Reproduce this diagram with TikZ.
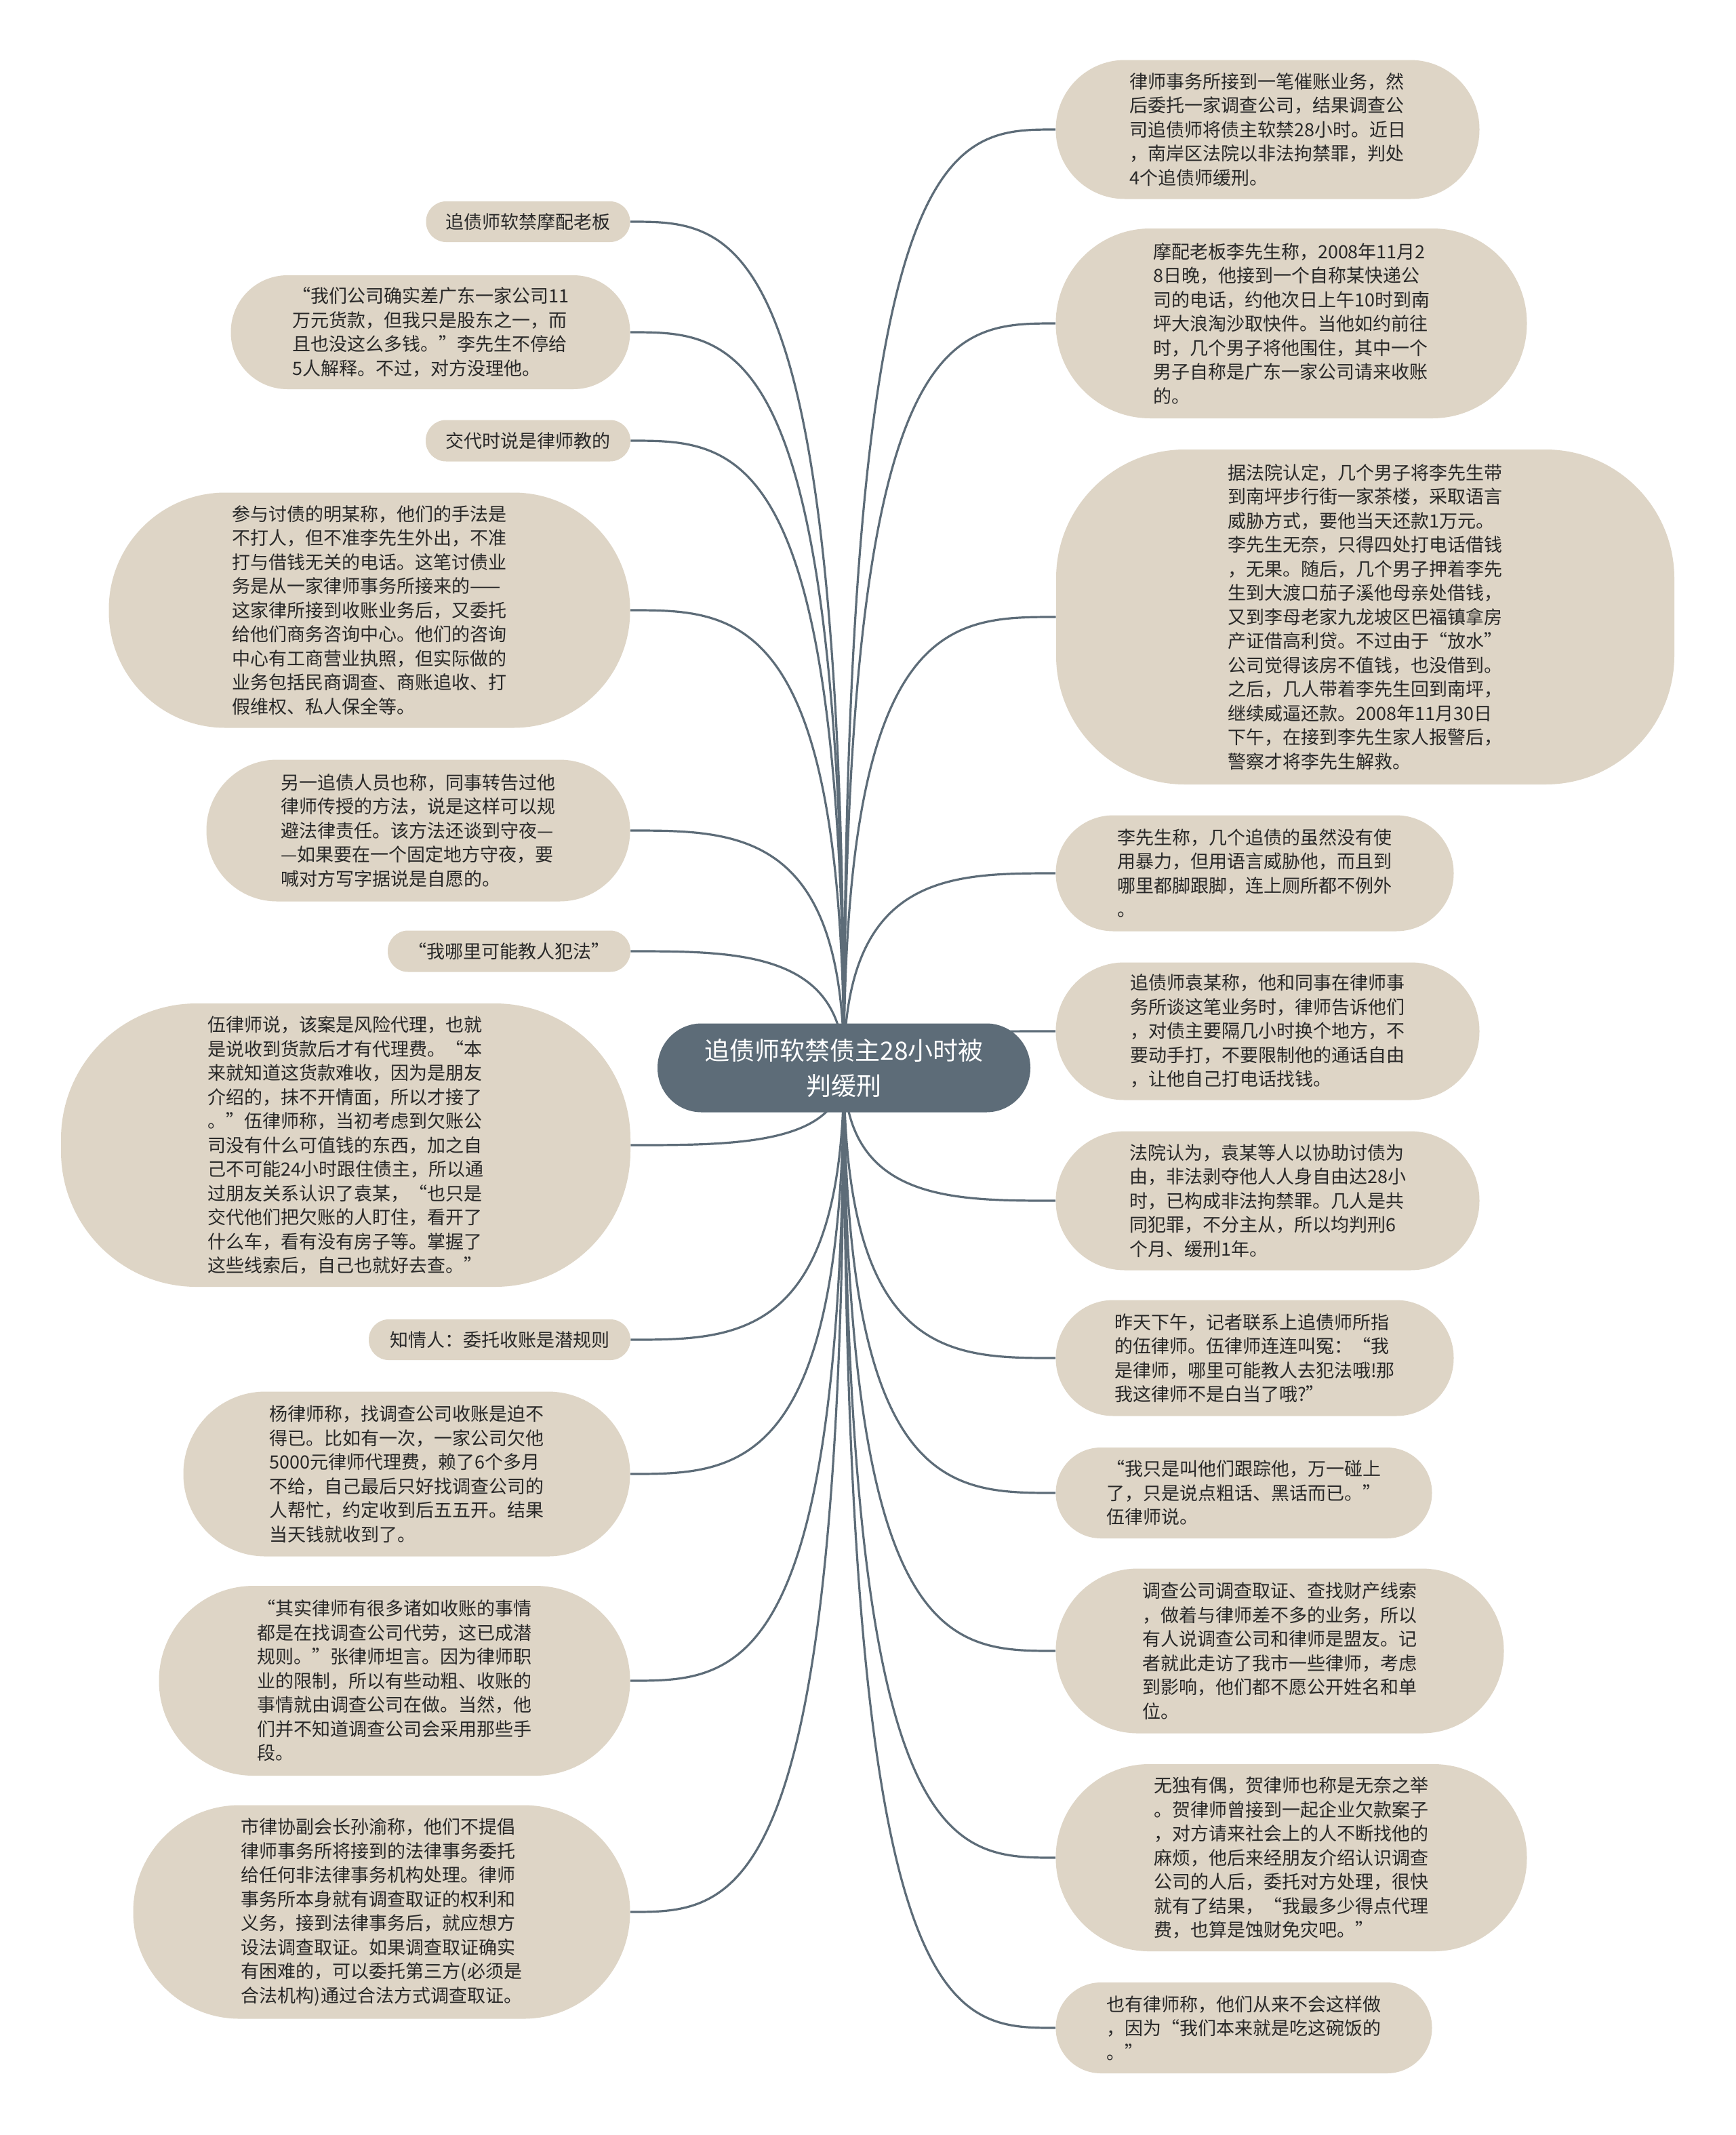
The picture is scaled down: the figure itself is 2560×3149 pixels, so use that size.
\documentclass[tikz,border=0pt]{standalone}
\usepackage{fontspec}
\setmainfont{Noto Sans CJK SC}
\newfontfamily\fwfont[RawFeature=+fwid]{Noto Sans CJK SC}
\newcommand\zql{{\fwfont “}}
\newcommand\zqr{{\fwfont ”}}
\usetikzlibrary{backgrounds,calc}
\definecolor{cbeige}{RGB}{222,213,198}
\definecolor{cslate}{RGB}{93,108,120}
\definecolor{cink}{RGB}{40,40,40}
\tikzset{
  leaf/.style={fill=cbeige, draw=none, text=cink, align=left, inner sep=0pt,
    font={\fontsize{13.5pt}{17.75pt}\selectfont}},
  rootnode/.style={fill=cslate, draw=none, text=white, align=center, inner sep=0pt,
    font={\fontsize{18.5pt}{26pt}\selectfont}, rounded corners=32.5pt,
    minimum width=275pt, minimum height=65.5pt},
  link/.style={draw=cslate, line width=1.6pt},
}
\begin{document}
\begin{tikzpicture}[x=0.5pt,y=-0.5pt]
\useasboundingbox (0,0) rectangle (2560,3149);

\node[rootnode] (root) at (1245,1575) {追债师软禁债主28小时被\\判缓刑};

% left side
\node[leaf, minimum width=150.5pt, minimum height=30pt, rounded corners=14.8pt] (L1) at (779,327) {追债师软禁摩配老板};
\node[leaf, minimum width=294.5pt, minimum height=84pt, rounded corners=41.8pt] (L2) at (635,490) {\zql 我们公司确实差广东一家公司11\\万元货款，但我只是股东之一，而\\且也没这么多钱。\zqr 李先生不停给\\5人解释。不过，对方没理他。};
\node[leaf, minimum width=151pt, minimum height=30.5pt, rounded corners=15pt] (L3) at (779,650) {交代时说是律师教的};
\node[leaf, minimum width=384.5pt, minimum height=173.5pt, rounded corners=86pt] (L4) at (545,900) {参与讨债的明某称，他们的手法是\\不打人，但不准李先生外出，不准\\打与借钱无关的电话。这笔讨债业\\务是从一家律师事务所接来的——\\这家律所接到收账业务后，又委托\\给他们商务咨询中心。他们的咨询\\中心有工商营业执照，但实际做的\\业务包括民商调查、商账追收、打\\假维权、私人保全等。};
\node[leaf, minimum width=312.5pt, minimum height=104.5pt, rounded corners=52pt] (L5) at (617,1225) {另一追债人员也称，同事转告过他\\律师传授的方法，说是这样可以规\\避法律责任。该方法还谈到守夜—\\—如果要在一个固定地方守夜，要\\喊对方写字据说是自愿的。};
\node[leaf, minimum width=179pt, minimum height=30.5pt, rounded corners=15pt] (L6) at (751,1403) {\zql 我哪里可能教人犯法\zqr};
\node[leaf, minimum width=420pt, minimum height=209pt, rounded corners=100pt] (L7) at (510,1689) {伍律师说，该案是风险代理，也就\\是说收到货款后才有代理费。\zql 本\\来就知道这货款难收，因为是朋友\\介绍的，抹不开情面，所以才接了\\。\zqr 伍律师称，当初考虑到欠账公\\司没有什么可值钱的东西，加之自\\己不可能24小时跟住债主，所以通\\过朋友关系认识了袁某，\zql 也只是\\交代他们把欠账的人盯住，看开了\\什么车，看有没有房子等。掌握了\\这些线索后，自己也就好去查。\zqr};
\node[leaf, minimum width=193pt, minimum height=30pt, rounded corners=14.8pt] (L8) at (737,1976) {知情人：委托收账是潜规则};
\node[leaf, minimum width=329.5pt, minimum height=121.5pt, rounded corners=60.5pt] (L9) at (600,2174) {杨律师称，找调查公司收账是迫不\\得已。比如有一次，一家公司欠他\\5000元律师代理费，赖了6个多月\\不给，自己最后只好找调查公司的\\人帮忙，约定收到后五五开。结果\\当天钱就收到了。};
\node[leaf, minimum width=347.5pt, minimum height=140pt, rounded corners=69.8pt] (L10) at (582,2479) {\zql 其实律师有很多诸如收账的事情\\都是在找调查公司代劳，这已成潜\\规则。\zqr 张律师坦言。因为律师职\\业的限制，所以有些动粗、收账的\\事情就由调查公司在做。当然，他\\们并不知道调查公司会采用那些手\\段。};
\node[leaf, minimum width=366.5pt, minimum height=157.5pt, rounded corners=78.5pt] (L11) at (563,2820) {市律协副会长孙渝称，他们不提倡\\律师事务所将接到的法律事务委托\\给任何非法律事务机构处理。律师\\事务所本身就有调查取证的权利和\\义务，接到法律事务后，就应想方\\设法调查取证。如果调查取证确实\\有困难的，可以委托第三方(必须是\\合法机构)通过合法方式调查取证。};

% right side
\node[leaf, minimum width=312.5pt, minimum height=102.5pt, rounded corners=51pt] (R1) at (1870,191) {律师事务所接到一笔催账业务，然\\后委托一家调查公司，结果调查公\\司追债师将债主软禁28小时。近日\\，南岸区法院以非法拘禁罪，判处\\4个追债师缓刑。};
\node[leaf, minimum width=347.5pt, minimum height=140pt, rounded corners=69.8pt] (R2) at (1905,477) {摩配老板李先生称，2008年11月2\\8日晚，他接到一个自称某快递公\\司的电话，约他次日上午10时到南\\坪大浪淘沙取快件。当他如约前往\\时，几个男子将他围住，其中一个\\男子自称是广东一家公司请来收账\\的。};
\node[leaf, minimum width=456pt, minimum height=247pt, rounded corners=95pt] (R3) at (2014,910) {据法院认定，几个男子将李先生带\\到南坪步行街一家茶楼，采取语言\\威胁方式，要他当天还款1万元。\\李先生无奈，只得四处打电话借钱\\，无果。随后，几个男子押着李先\\生到大渡口茄子溪他母亲处借钱，\\又到李母老家九龙坡区巴福镇拿房\\产证借高利贷。不过由于\zql 放水\zqr\\公司觉得该房不值钱，也没借到。\\之后，几人带着李先生回到南坪，\\继续威逼还款。2008年11月30日\\下午，在接到李先生家人报警后，\\警察才将李先生解救。};
\node[leaf, minimum width=293.5pt, minimum height=85.5pt, rounded corners=42.5pt] (R4) at (1851,1288) {李先生称，几个追债的虽然没有使\\用暴力，但用语言威胁他，而且到\\哪里都脚跟脚，连上厕所都不例外\\。};
\node[leaf, minimum width=312.5pt, minimum height=101.5pt, rounded corners=50.5pt] (R5) at (1870,1521) {追债师袁某称，他和同事在律师事\\务所谈这笔业务时，律师告诉他们\\，对债主要隔几小时换个地方，不\\要动手打，不要限制他的通话自由\\，让他自己打电话找钱。};
\node[leaf, minimum width=312.5pt, minimum height=102.5pt, rounded corners=51pt] (R6) at (1870,1771) {法院认为，袁某等人以协助讨债为\\由，非法剥夺他人人身自由达28小\\时，已构成非法拘禁罪。几人是共\\同犯罪，不分主从，所以均判刑6\\个月、缓刑1年。};
\node[leaf, minimum width=293.5pt, minimum height=85.5pt, rounded corners=42.5pt] (R7) at (1851,2003) {昨天下午，记者联系上追债师所指\\的伍律师。伍律师连连叫冤：\zql 我\\是律师，哪里可能教人去犯法哦!那\\我这律师不是白当了哦?\zqr};
\node[leaf, minimum width=277.5pt, minimum height=67pt, rounded corners=33.3pt] (R8) at (1835,2202) {\zql 我只是叫他们跟踪他，万一碰上\\了，只是说点粗话、黑话而已。\zqr\\伍律师说。};
\node[leaf, minimum width=330.5pt, minimum height=121.5pt, rounded corners=60.5pt] (R9) at (1888,2435) {调查公司调查取证、查找财产线索\\，做着与律师差不多的业务，所以\\有人说调查公司和律师是盟友。记\\者就此走访了我市一些律师，考虑\\到影响，他们都不愿公开姓名和单\\位。};
\node[leaf, minimum width=347.5pt, minimum height=138pt, rounded corners=68.8pt] (R10) at (1905,2740) {无独有偶，贺律师也称是无奈之举\\。贺律师曾接到一起企业欠款案子\\，对方请来社会上的人不断找他的\\麻烦，他后来经朋友介绍认识调查\\公司的人后，委托对方处理，很快\\就有了结果，\zql 我最多少得点代理\\费，也算是蚀财免灾吧。\zqr};
\node[leaf, minimum width=277.5pt, minimum height=67pt, rounded corners=33.3pt] (R11) at (1835,2991) {也有律师称，他们从来不会这样做\\，因为\zql 我们本来就是吃这碗饭的\\。\zqr};

\begin{scope}[on background layer]
  \fill[white] (0,0) rectangle (2560,3149);
  \foreach \nd in {L1,L2,L3,L4,L5,L6,L7,L8,L9,L10,L11}
    \draw[link] let \p{a}=(root.center), \p{b}=(\nd.east) in
      (\p{a}) .. controls (\x{a},\y{b}) and ({0.5*\x{a}+0.5*\x{b}},\y{b}) .. (\p{b});
  \foreach \nd in {R1,R2,R3,R4,R5,R6,R7,R8,R9,R10,R11}
    \draw[link] let \p{a}=(root.center), \p{b}=(\nd.west) in
      (\p{a}) .. controls (\x{a},\y{b}) and ({0.5*\x{a}+0.5*\x{b}},\y{b}) .. (\p{b});
\end{scope}
\end{tikzpicture}
\end{document}
